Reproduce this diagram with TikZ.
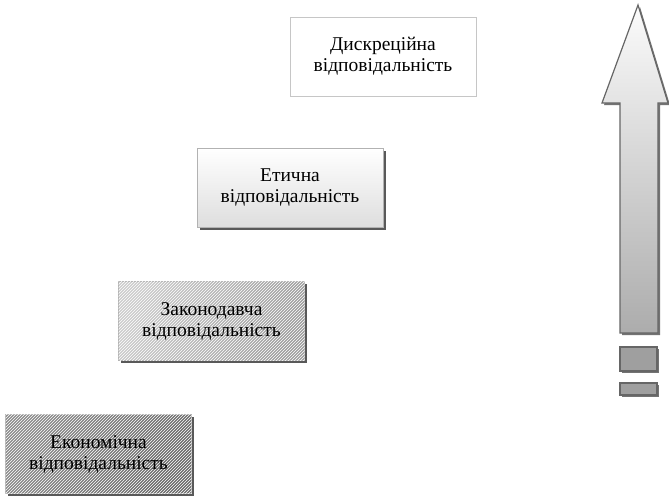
\documentclass[tikz,border=0pt]{standalone}
\usepackage{fontspec}
\setmainfont{Liberation Serif}
\usetikzlibrary{patterns,shadows}
\begin{document}
\begin{tikzpicture}[x=1pt,y=-1pt,
  box/.style={rectangle, draw=gray!60, line width=0.8pt, align=center,
    font=\fontsize{19.5}{21}\selectfont, inner sep=0pt,
    minimum width=186pt, minimum height=79pt},
  shad/.style={drop shadow={shadow xshift=2.5pt, shadow yshift=-2.5pt, fill=black!65, opacity=1}},
  hatch/.style={postaction={pattern=north east lines, pattern color=white, fill opacity=0.12}},
  arrline/.style={draw=black!60, line width=1.2pt},
  arrshadow/.style={fill=black!55}
]
\useasboundingbox (0,0) rectangle (669,499);

\node[box, fill=white, draw=gray!45] (disc) at (383,56.5) {Дискреційна\\відповідальність};
\node[box, shad, top color=white, bottom color=black!13] (etic) at (290,187.5) {Етична\\відповідальність};
\node[box, shad, left color=black!20, right color=black!38, shading angle=70, hatch] (zak) at (211.5,321) {Законодавча\\відповідальність};
\node[box, shad, left color=black!45, middle color=black!18, right color=black!58, shading angle=60, hatch] (eko) at (98.5,454) {Економічна\\відповідальність};

% arrow shadow
\fill[arrshadow] (640,7) -- (670,105) -- (660,105) -- (660,335) -- (622,335) -- (622,105) -- (604,105) -- cycle;
\path[arrline, top color=gray!3, bottom color=gray!65] (638,5) -- (668,103) -- (658,103) -- (658,333) -- (620,333) -- (620,103) -- (602,103) -- cycle;

\fill[arrshadow] (622,349) rectangle (659,373);
\draw[arrline, fill=gray!75] (620,347) rectangle (657,371);
\fill[arrshadow] (622,385) rectangle (659,397);
\draw[arrline, fill=gray!75] (620,383) rectangle (657,395);
\end{tikzpicture}
\end{document}
